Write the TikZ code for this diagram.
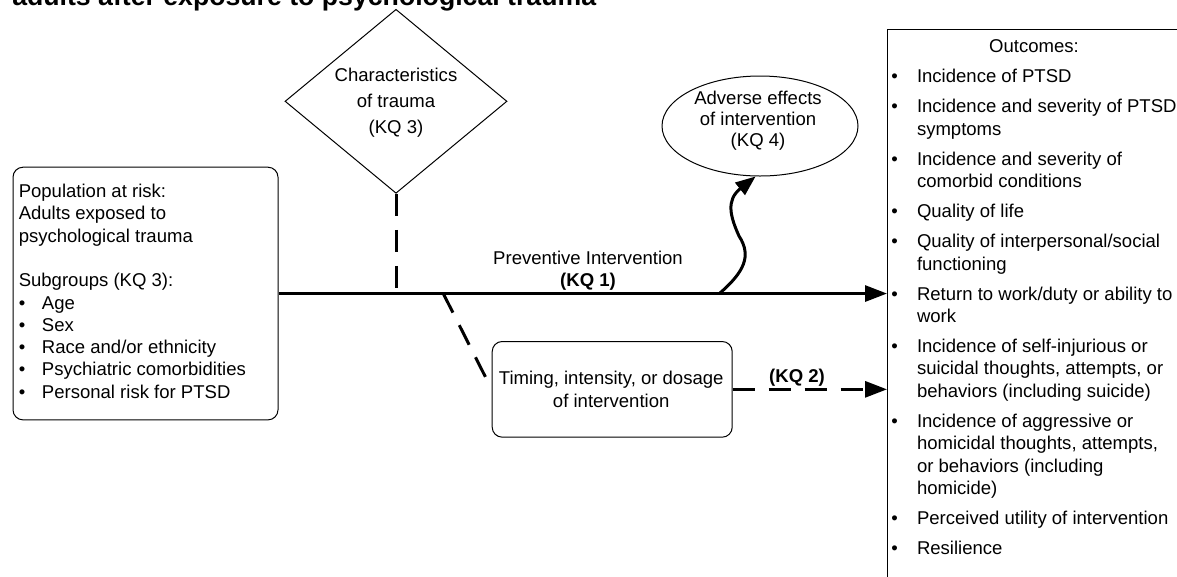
\documentclass[tikz,border=0pt]{standalone}
\usepackage{fontspec}
\setmainfont{Liberation Sans}
\usetikzlibrary{arrows.meta,shapes.geometric}
\begin{document}
\begin{tikzpicture}[x=0.75pt,y=-0.75pt,
  thin border/.style={draw=black,line width=0.75pt},
  txt/.style={inner sep=0pt,font=\fontsize{13.9}{16.7}\selectfont},
  thickline/.style={line width=2.25pt},
  dashline/.style={line width=2.25pt,dash pattern=on 16.5pt off 10.5pt},
  bigtip/.style={-{Triangle[length=16.5pt,width=12pt]}},
  smalltip/.style={-{Triangle[length=15pt,width=11.5pt]}}]
\useasboundingbox (0,0) rectangle (1177,576);
\clip (0,0) rectangle (1177,576);
\fill[white] (0,0) rectangle (1177,576);

% title (cut off by the top edge)
\node[anchor=base west,inner sep=0pt,font=\bfseries\fontsize{20}{24}\selectfont] (title) at (12,5) {adults after exposure to psychological trauma};

% population box
\node[thin border,rounded corners=7.5pt,minimum width=198.75pt,minimum height=189.5pt,anchor=north west] (pop) at (12.5,166.7) {};
\node[txt,anchor=base west] (popt) at (18.5,197.7) {\begin{tabular}[t]{@{}p{17.4pt}@{}l@{}}
\multicolumn{2}{@{}l@{}}{Population at risk:}\\
\multicolumn{2}{@{}l@{}}{Adults exposed to}\\
\multicolumn{2}{@{}l@{}}{psychological trauma}\\
\multicolumn{2}{@{}l@{}}{}\\
\multicolumn{2}{@{}l@{}}{Subgroups (KQ 3):}\\
\textbullet & Age\\
\textbullet & Sex\\
\textbullet & Race and/or ethnicity\\
\textbullet & Psychiatric comorbidities\\
\textbullet & Personal risk for PTSD
\end{tabular}};

% diamond
\node[thin border,diamond,aspect=1.2,inner sep=0pt,minimum width=166.5pt,minimum height=138pt] (dia) at (396,101.3) {};
\node[txt,anchor=base] (diat) at (396,81.3) {\fontsize{13.9}{19.5}\selectfont\begin{tabular}[t]{@{}c@{}}Characteristics\\ of trauma\\ (KQ 3)\end{tabular}};

% ellipse
\node[thin border,ellipse,inner sep=0pt,minimum width=147pt,minimum height=75pt] (ell) at (760,126) {};
\node[txt,anchor=base] (ellt) at (758,104) {\fontsize{13.9}{15.8}\selectfont\begin{tabular}[t]{@{}c@{}}Adverse effects\\ of intervention\\ (KQ 4)\end{tabular}};

% timing box
\node[thin border,rounded corners=7.5pt,minimum width=180pt,minimum height=71.75pt,anchor=north west] (tim) at (491.7,341) {};
\node[txt,anchor=base] (timt) at (611.2,384.5) {\fontsize{13.9}{16.9}\selectfont\begin{tabular}[t]{@{}c@{}}Timing, intensity, or dosage\\ of intervention\end{tabular}};

% outcomes box (continues beyond the right and bottom edges)
\node[thin border,minimum width=260pt,minimum height=450pt,anchor=north west] (outb) at (887,29) {};
\node[txt,anchor=base west] (outt) at (891,52.7) {\fontsize{13.9}{16.875}\selectfont\begin{tabular}[t]{@{}p{19.3pt}@{}l@{}}
\multicolumn{2}{@{}c@{}}{Outcomes:}\\[5.6pt]
\textbullet & Incidence of PTSD\\[5.6pt]
\textbullet & Incidence and severity of PTSD\\
 & symptoms\\[5.6pt]
\textbullet & Incidence and severity of\\
 & comorbid conditions\\[5.6pt]
\textbullet & Quality of life\\[5.6pt]
\textbullet & Quality of interpersonal/social\\
 & functioning\\[5.6pt]
\textbullet & Return to work/duty or ability to\\
 & work\\[5.6pt]
\textbullet & Incidence of self-injurious or\\
 & suicidal thoughts, attempts, or\\
 & behaviors (including suicide)\\[5.6pt]
\textbullet & Incidence of aggressive or\\
 & homicidal thoughts, attempts,\\
 & or behaviors (including\\
 & homicide)\\[5.6pt]
\textbullet & Perceived utility of intervention\\[5.6pt]
\textbullet & Resilience
\end{tabular}};

% labels
\node[txt,anchor=base] (kq1a) at (588,264) {Preventive Intervention};
\node[txt,anchor=base,font=\bfseries\fontsize{13.9}{16.7}\selectfont] (kq1b) at (588,286.5) {(KQ 1)};
\node[txt,anchor=base,font=\bfseries\fontsize{13.9}{16.7}\selectfont] (kq2) at (797,382) {(KQ 2)};

% connectors
\coordinate (wv) at (720,293);
\coordinate (d1) at (443,293);
\draw[thickline,bigtip] (pop.east) -- (pop.east -| outb.west);
\draw[dashline] (dia.south) -- (dia.south |- pop.east);
\draw[dashline] (d1) -- (tim.west);
\draw[dashline,bigtip] (tim.east) -- (tim.east -| outb.west);
\draw[thickline,smalltip] (wv) .. controls (744,272) and (752,256) .. (739,236) .. controls (730,216) and (726,200) .. (ell.-95);
\end{tikzpicture}
\end{document}
